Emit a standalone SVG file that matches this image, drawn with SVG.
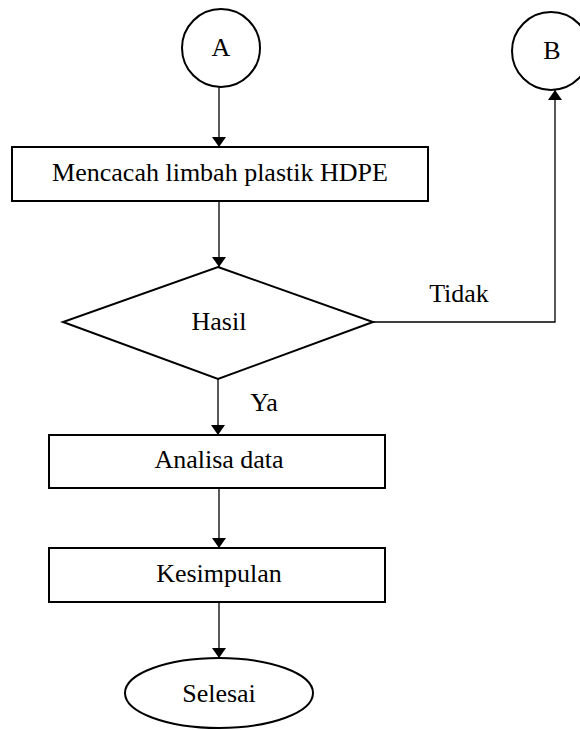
<svg xmlns="http://www.w3.org/2000/svg" width="580" height="730" viewBox="0 0 580 730">
<defs>
<style>
.s{fill:#fff;stroke:#000;stroke-width:2}
.c{fill:none;stroke:#000;stroke-width:1.3}
.t{font-family:"Liberation Serif","Times New Roman",serif;font-size:26px;fill:#000;text-anchor:middle}
</style>
<marker id="ah" viewBox="0 0 10 14" refX="10" refY="7" markerWidth="10" markerHeight="14" markerUnits="userSpaceOnUse" orient="auto">
<path d="M0,0 L10,7 L0,14 Z" fill="#000"/>
</marker>
</defs>
<rect width="580" height="730" fill="#fff"/>
<g id="connectors">
<line class="c" x1="219" y1="87" x2="219" y2="147" marker-end="url(#ah)"/>
<line class="c" x1="219" y1="201" x2="219" y2="267" marker-end="url(#ah)"/>
<line class="c" x1="218" y1="379" x2="218" y2="435" marker-end="url(#ah)"/>
<polyline class="c" points="373,322 555,322 555,90" marker-end="url(#ah)"/>
<line class="c" x1="219" y1="488" x2="219" y2="548" marker-end="url(#ah)"/>
<line class="c" x1="219" y1="602" x2="219" y2="658" marker-end="url(#ah)"/>
<text class="t" x="459" y="302">Tidak</text>
<text class="t" x="264" y="411">Ya</text>
</g>
<g id="nodeA">
<circle class="s" cx="221" cy="48" r="39"/>
<text class="t" x="221" y="56">A</text>
</g>
<g id="nodeB">
<circle class="s" cx="551" cy="51" r="39"/>
<text class="t" x="552" y="59">B</text>
</g>
<g id="node1">
<rect class="s" x="12" y="147" width="416" height="54"/>
<text class="t" x="220" y="181">Mencacah limbah plastik HDPE</text>
</g>
<g id="node2">
<polygon class="s" points="218,267 373,322 218,379 63,322"/>
<text class="t" x="219" y="330">Hasil</text>
</g>
<g id="node3">
<rect class="s" x="49" y="435" width="336" height="53"/>
<text class="t" x="219" y="468">Analisa data</text>
</g>
<g id="node4">
<rect class="s" x="49" y="548" width="336" height="54"/>
<text class="t" x="219" y="582">Kesimpulan</text>
</g>
<g id="node5">
<ellipse class="s" cx="219" cy="693" rx="94" ry="35"/>
<text class="t" x="219" y="702">Selesai</text>
</g>
</svg>
